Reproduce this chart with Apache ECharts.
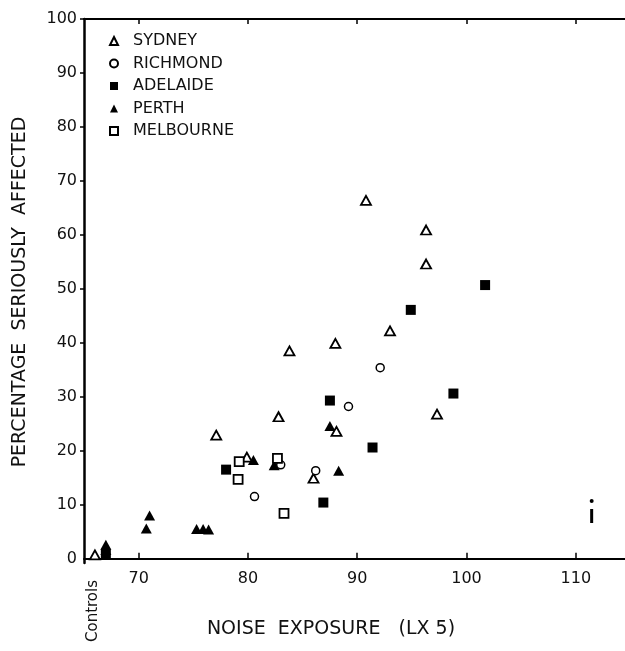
<!DOCTYPE html>
<html><head><meta charset="utf-8">
<script src="https://cdn.jsdelivr.net/npm/echarts@6/dist/echarts.min.js"></script>
<style>html,body{margin:0;padding:0;background:#fff}#c{width:625px;height:651px}</style>
</head><body><div id="c"></div>
<script>
const sydney = [[66.0,0.7],[77.1,22.9],[79.9,18.8],[82.8,26.3],[83.8,38.5],[86.0,14.9],[88.0,39.9],[88.1,23.6],[90.8,66.4],[93.0,42.2],[96.3,60.9],[96.3,54.6],[97.3,26.8]];
const richmond = [[80.6,11.5],[83.0,17.4],[86.2,16.3],[89.2,28.2],[92.1,35.4]];
const adelaide = [[67.0,0.9],[78.0,16.5],[86.9,10.4],[87.5,29.3],[91.4,20.6],[94.9,46.1],[98.8,30.6],[101.7,50.7]];
const perth = [[67.0,2.6],[67.0,1.6],[70.7,5.6],[71.0,8.0],[75.3,5.5],[75.9,5.5],[76.4,5.4],[80.5,18.3],[82.4,17.3],[87.5,24.6],[88.3,16.3]];
const melbourne = [[79.2,18.0],[79.1,14.7],[82.7,18.6],[83.3,8.4]];
const rangeBar = [[111.45,6.6],[111.45,9.2]];
const rangeDot = [[111.45,10.7]];
const xTicks = [70,80,90,100,110];
const yTicks = [0,10,20,30,40,50,60,70,80,90,100];
const yTickMarks = [10,20,30,40,50,60,70,80,90,100];
const names = ['SYDNEY','RICHMOND','ADELAIDE','PERTH','MELBOURNE'];

const FONT = '"DejaVu Sans", sans-serif';
const open = {color:'#fff', borderColor:'#000', borderWidth:1.8, opacity:1};
const filled = {color:'#000', opacity:1};
const chart = echarts.init(document.getElementById('c'), null, {renderer:'canvas'});
const axisLine = {show:true, lineStyle:{color:'#000', width:2}};
chart.setOption({
  animation:false,
  backgroundColor:'#fff',
  grid:{left:84, top:19, right:0, bottom:88, containLabel:false, outerBoundsMode:'none'},
  xAxis:[{
    type:'value', position:'bottom', min:65, max:114.5,
    axisLine:axisLine, splitLine:{show:false},
    axisTick:{show:true, inside:true, length:6, customValues:xTicks, lineStyle:{color:'#000', width:1.5}},
    axisLabel:{show:true, customValues:xTicks, margin:8, color:'#111', fontFamily:FONT, fontSize:16}
  },{
    type:'value', position:'top', min:65, max:114.5,
    axisLine:axisLine, splitLine:{show:false},
    axisTick:{show:true, inside:true, length:5, customValues:xTicks, lineStyle:{color:'#000', width:1.5}},
    axisLabel:{show:false}
  }],
  yAxis:{
    type:'value', min:-0.8, max:100,
    axisLine:{show:true, lineStyle:{color:'#000', width:2.5}}, splitLine:{show:false},
    axisTick:{show:true, inside:false, length:4, customValues:yTickMarks, lineStyle:{color:'#000', width:1.5}},
    axisLabel:{show:true, customValues:yTicks, margin:7, color:'#111', fontFamily:FONT, fontSize:16}
  },
  legend:{
    orient:'vertical', left:104, top:28, itemWidth:8, itemHeight:8, itemGap:6.5,
    data:names, selectedMode:false, symbolKeepAspect:true,
    textStyle:{color:'#111', fontFamily:FONT, fontSize:16, lineHeight:16, padding:[0,0,0,10]}
  },
  series:[
    {name:'SYDNEY', type:'scatter', symbol:'triangle', symbolSize:[10,9], data:sydney, itemStyle:open, z:3},
    {name:'RICHMOND', type:'scatter', symbol:'circle', symbolSize:8, data:richmond, itemStyle:{color:'#fff', borderColor:'#000', borderWidth:1.5, opacity:1}, z:3},
    {name:'ADELAIDE', type:'scatter', symbol:'rect', symbolSize:10, data:adelaide, itemStyle:filled, z:2},
    {name:'PERTH', type:'scatter', symbol:'triangle', symbolSize:[11,10], data:perth, itemStyle:filled, z:2},
    {name:'MELBOURNE', type:'scatter', symbol:'rect', symbolSize:9, data:melbourne, itemStyle:open, z:3},
    {name:'range', type:'line', data:rangeBar, symbol:'none', lineStyle:{color:'#000', width:3}, z:2},
    {name:'rangeDot', type:'scatter', symbol:'circle', symbolSize:4, data:rangeDot, itemStyle:filled, z:2}
  ],
  graphic:[
    {type:'text', x:20, y:292, rotation:Math.PI/2, style:{text:'PERCENTAGE  SERIOUSLY  AFFECTED', font:'19px '+FONT, fill:'#111', align:'center', verticalAlign:'middle'}},
    {type:'text', x:331, y:629, style:{text:'NOISE  EXPOSURE   (LX 5)', font:'19px '+FONT, fill:'#111', align:'center', verticalAlign:'middle'}},
    {type:'text', x:93, y:611, rotation:Math.PI/2, style:{text:'Controls', font:'15px '+FONT, fill:'#111', align:'center', verticalAlign:'middle'}}
  ]
});
</script></body></html>
